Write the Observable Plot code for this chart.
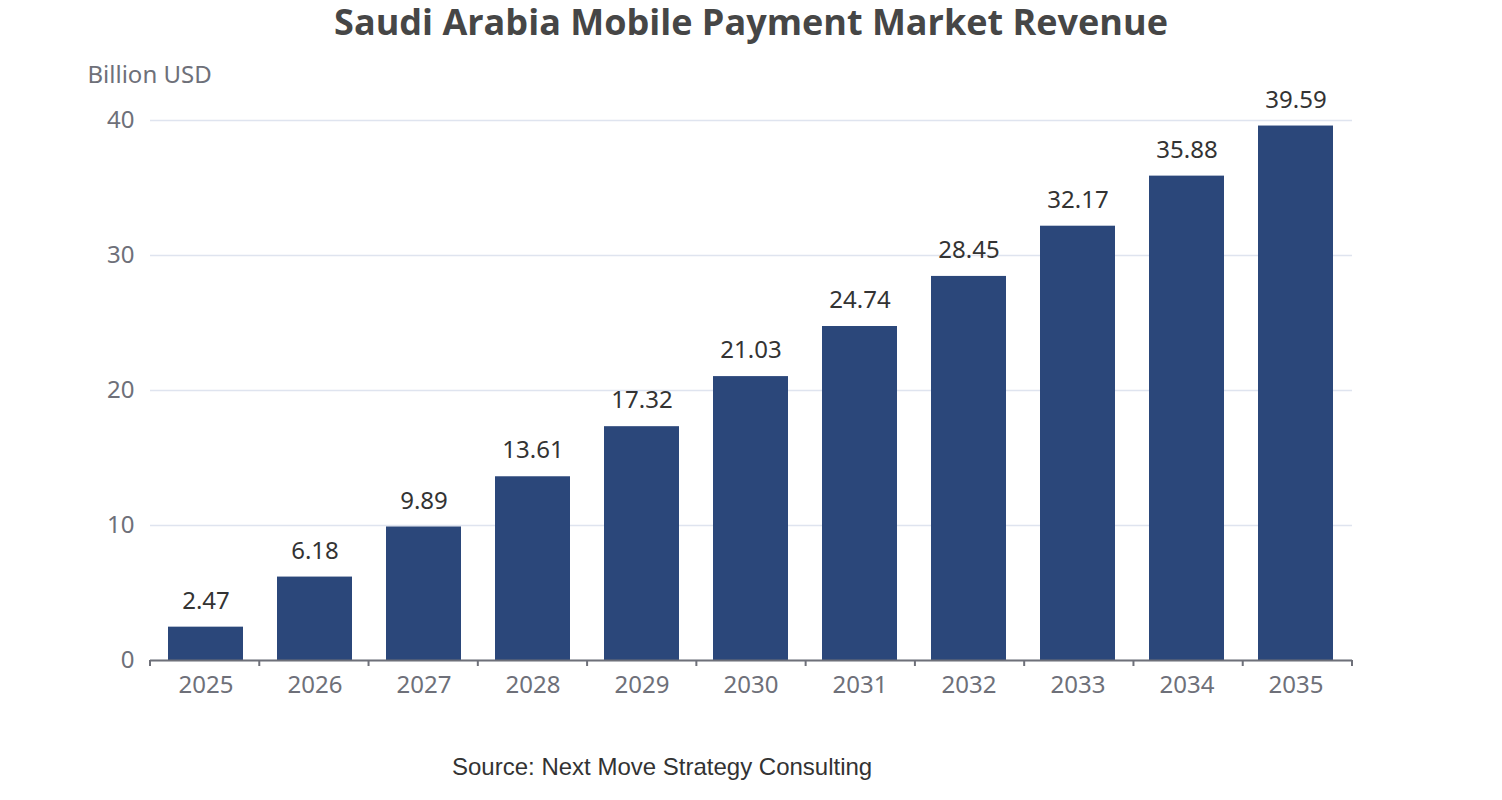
<!DOCTYPE html>
<html>
<head>
<meta charset="utf-8">
<script src="https://cdn.jsdelivr.net/npm/d3@7"></script>
<script src="https://cdn.jsdelivr.net/npm/@observablehq/plot@0.6"></script>
<style>
  body { margin: 0; background: #fff; width: 1502px; height: 800px; position: relative; overflow: hidden; }
  #title { height: 50px; line-height: 44px; text-align: center; font-family: "Open Sans", "Noto Sans", sans-serif; font-weight: bold; font-size: 36px; color: #464646; }
  #source { position: absolute; left: 452px; top: 753px; font-family: "Liberation Sans", Arial, sans-serif; font-size: 24px; color: #333; line-height: 28px; }
  #chart svg { display: block; }
</style>
</head>
<body>
<div id="title">Saudi Arabia Mobile Payment Market Revenue</div>
<div id="chart"></div>
<div id="source">Source: Next Move Strategy Consulting</div>
<script>
const years = ["2025","2026","2027","2028","2029","2030","2031","2032","2033","2034","2035"];
const revenue = [2.47, 6.18, 9.89, 13.61, 17.32, 21.03, 24.74, 28.45, 32.17, 35.88, 39.59];
const yTicks = [0, 10, 20, 30, 40];
const yLabel = "Billion USD";

const data = years.map((y, i) => ({year: y, value: revenue[i]}));
const W = 1502, H = 680, mL = 150, mR = 150, mT = 70, mB = 70;
const font = '"Noto Sans", "Open Sans", sans-serif';

const plot = Plot.plot({
  width: W, height: H,
  marginLeft: mL, marginRight: mR, marginTop: mT, marginBottom: mB,
  style: {fontFamily: font, background: "#fff"},
  x: {domain: years, paddingInner: 0.31, paddingOuter: 0.155, axis: null},
  y: {domain: [0, 40], axis: null},
  marks: [
    Plot.gridY(yTicks, {stroke: "#dfe4ef", strokeOpacity: 1, strokeWidth: 1.5}),
    Plot.text(yTicks, {y: d => d, frameAnchor: "left", dx: -16, textAnchor: "end", text: d => String(d), fill: "#6e7079", fontSize: 24}),
    Plot.barY(data, {x: "year", y: "value", fill: "#2b477a"}),
    Plot.text(data, {x: "year", y: "value", text: d => d.value.toFixed(2), dy: -26, fill: "#333", fontSize: 24}),
    Plot.ruleY([0], {stroke: "#6e7079", strokeWidth: 2}),
    Plot.text(years, {x: d => d, frameAnchor: "bottom", lineAnchor: "middle", dy: 25, text: d => d, fill: "#6e7079", fontSize: 24}),
    Plot.text([yLabel], {frameAnchor: "top-left", lineAnchor: "middle", dx: -63, dy: -45, text: d => d, fill: "#6e7079", fontSize: 24, textAnchor: "start"})
  ]
});
document.getElementById("chart").appendChild(plot);

// band-boundary tick marks below the axis (echarts style), positioned from the band scale
const xs = plot.scale("x");
const ys = plot.scale("y");
const xScale = d3.scaleBand().domain(xs.domain).range(xs.range).paddingInner(0).paddingOuter(0);
const y0 = ys.apply(0);
const svg = d3.select(plot);
const bounds = years.map(y => xScale(y)).concat([xScale(years[years.length - 1]) + xScale.bandwidth()]);
svg.append("g").selectAll("line").data(bounds).join("line")
  .attr("x1", d => d).attr("x2", d => d)
  .attr("y1", y0).attr("y2", y0 + 6)
  .attr("stroke", "#6e7079").attr("stroke-width", 2);
</script>
</body>
</html>
